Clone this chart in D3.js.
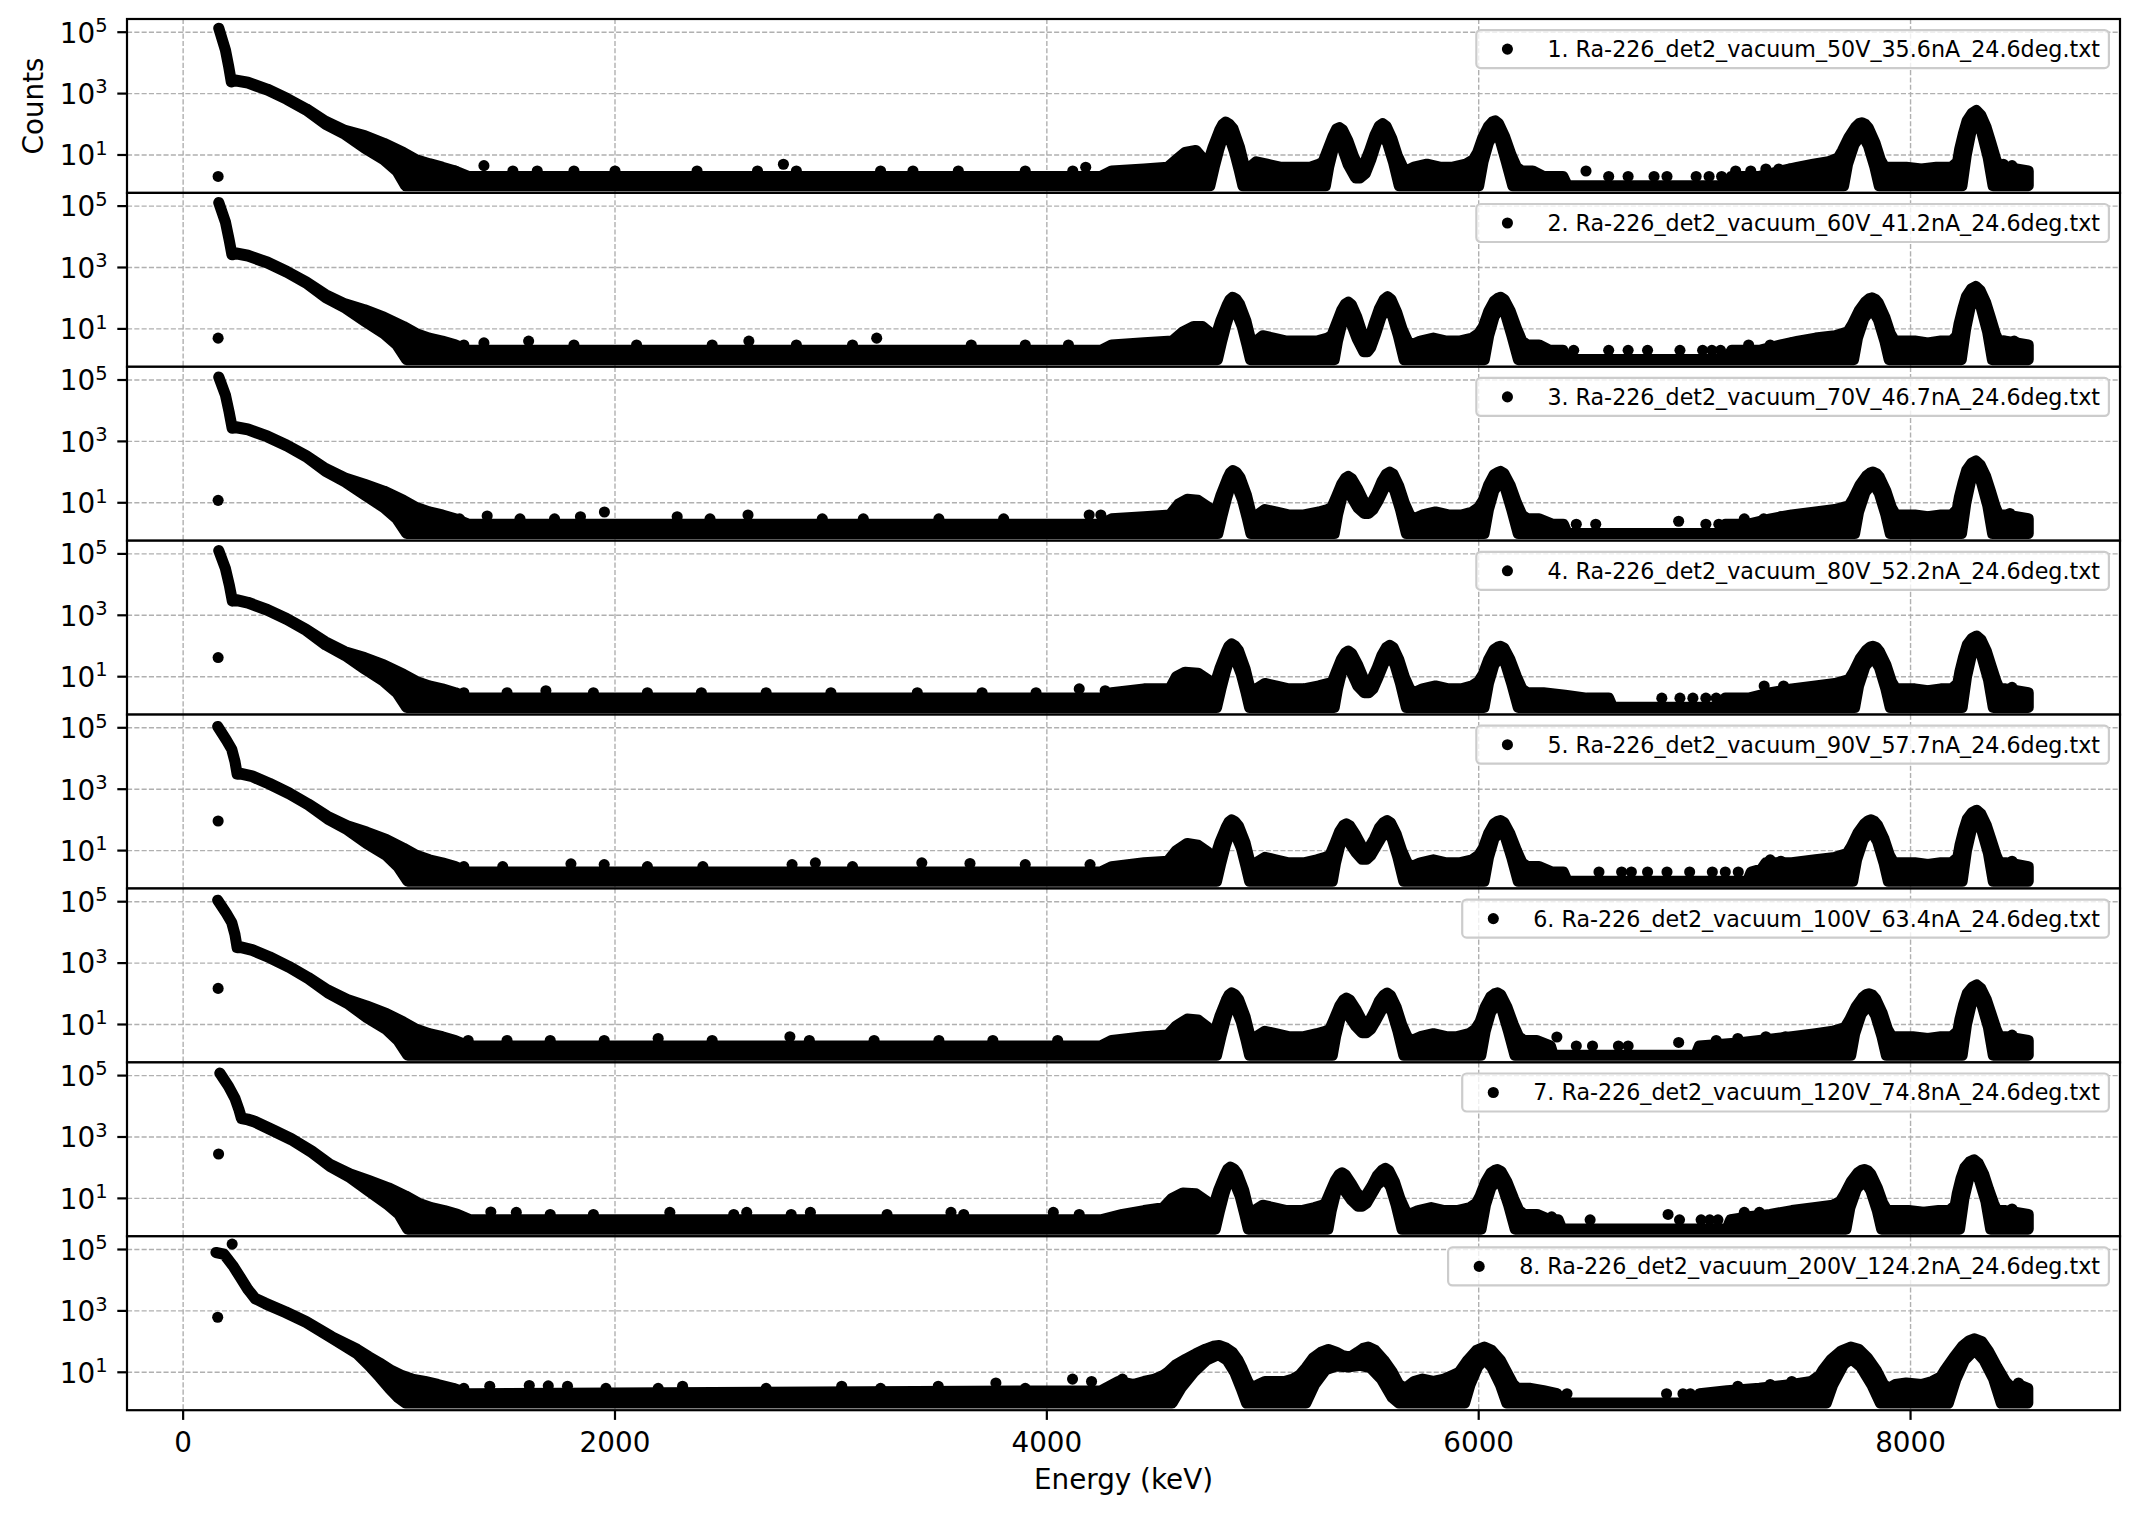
<!DOCTYPE html>
<html>
<head>
<meta charset="utf-8">
<script src="https://cdn.jsdelivr.net/npm/d3@7"></script>
<style>
  body { margin: 0; background: #fff; }
  text { font-family: 'DejaVu Sans', sans-serif; fill: #000; }
</style>
</head>
<body>
<div id="chart"></div>
<script>
// legend labels, one per run
const labels = [
  '1. Ra-226_det2_vacuum_50V_35.6nA_24.6deg.txt',
  '2. Ra-226_det2_vacuum_60V_41.2nA_24.6deg.txt',
  '3. Ra-226_det2_vacuum_70V_46.7nA_24.6deg.txt',
  '4. Ra-226_det2_vacuum_80V_52.2nA_24.6deg.txt',
  '5. Ra-226_det2_vacuum_90V_57.7nA_24.6deg.txt',
  '6. Ra-226_det2_vacuum_100V_63.4nA_24.6deg.txt',
  '7. Ra-226_det2_vacuum_120V_74.8nA_24.6deg.txt',
  '8. Ra-226_det2_vacuum_200V_124.2nA_24.6deg.txt'
];

const xTicks = [0, 2000, 4000, 6000, 8000];
const yTicks = [1e1, 1e3, 1e5];
const yExp = ['1', '3', '5'];

// each spectrum is a dense cloud of points: upper / lower edge of the cloud
// (energy keV, counts), plus the isolated points
const upper1 = [[165,135000],[196,26000],[211,7600],[223,2500],[240,2800],[300,2350],[390,1400],[480,700],[570,320],[660,125],[750,63],[840,43],[930,24],[1020,12],[1080,7],[1140,5.2],[1200,4],[1260,3],[1320,2],
  [4250,2],[4300,3],[4450,3.5],[4560,4],[4600,7],[4640,12],[4690,14],[4720,8],
  [4745,5],[4770,18],[4800,63],[4815,100],[4828,118],[4845,100],[4862,72],[4892,18],[4915,4],
  [4940,4],[4970,6],[5020,5],[5080,4],[5150,4],[5220,4],[5260,5],
  [5280,6],[5300,14],[5325,40],[5342,70],[5355,78],[5370,65],[5395,28],[5420,9],[5448,3.5],[5470,5],[5495,14],[5520,45],[5540,88],[5555,105],[5572,85],[5597,35],[5622,10],[5648,4],[5665,3],
  [5700,4],[5760,5],[5820,4],[5880,4],[5940,5],[5975,7],
  [5995,12],[6020,38],[6045,85],[6064,120],[6076,130],[6092,105],[6120,40],[6150,10],[6175,4],[6200,3],
  [6250,3],[6300,2],[6390,2],[6410,1],[7150,1],[7170,2],[7300,2],[7400,3],[7480,4],[7550,5],[7620,6],[7665,8],
  [7685,14],[7715,38],[7745,80],[7762,105],[7775,112],[7790,100],[7805,75],[7835,25],[7860,7],[7880,4],
  [7920,4],[7980,4],[8050,3.5],[8120,4],[8190,4],[8218,6],
  [8228,16],[8245,50],[8262,130],[8285,230],[8305,280],[8325,200],[8350,80],[8372,25],[8395,7],[8410,4],
  [8440,4],[8490,3.5],[8545,3]];
const lower1 = [[165,135000],[196,26000],[211,7600],[223,2400],[240,2600],[300,2200],[390,1300],[480,650],[570,290],[660,100],[750,47],[840,17],[930,7],[990,3],[1030,1],
  [4755,1],[4775,4],[4795,14],[4812,35],[4828,55],[4848,35],[4870,12],[4892,3],[4908,1],
  [5290,1],[5305,4],[5325,15],[5345,33],[5365,20],[5395,5],[5430,1.8],[5450,1.8],[5475,2.5],[5500,7],[5525,25],[5552,50],[5578,25],[5605,6],[5632,1],
  [6000,1],[6020,6],[6045,25],[6076,60],[6100,30],[6128,6],[6158,1],
  [7690,1],[7708,5],[7738,22],[7775,50],[7805,20],[7835,4],[7855,1],
  [8238,1],[8258,10],[8280,60],[8305,120],[8330,55],[8360,8],[8382,1],
  [8545,1]];
const dots1 = [[162,2],[1260,3],[1393,4.5],[1527,3],[1640,3],[1810,3],[2000,3],[2380,3],[2660,3],[2780,5],[2840,3],[3230,3],[3380,3],[3590,3],[3900,3],[4120,3],[4180,4],
  [6497,3],[6602,2],[6692,2],[6812,2],[6872,2],[7007,2],[7067,2],[7125,2],[7190,3],[7260,3],[7330,3.5],[7390,3.5],[7440,3.5],[8430,5],[8470,4.5]];

const upper2 = [[165,130000],[196,30000],[213,8000],[226,2700],[245,3000],[300,2500],[390,1500],[480,750],[570,340],[660,130],[750,65],[840,42],[930,24],[1020,12],[1080,7],[1140,5],[1200,4],[1260,3],[1320,2],
  [4250,2],[4300,3],[4450,3.5],[4580,4],[4630,8],[4680,12],[4720,12],[4750,8],
  [4780,5],[4805,18],[4835,60],[4848,90],[4860,107],[4875,95],[4892,65],[4922,18],[4945,4],
  [4970,4],[5000,6],[5050,5],[5110,4],[5180,4],[5250,4],[5300,5],
  [5320,6],[5340,14],[5365,40],[5383,65],[5396,74],[5410,62],[5435,25],[5458,8],[5480,3.5],[5495,5],[5515,14],[5540,45],[5562,90],[5578,112],[5594,90],[5620,35],[5645,10],[5670,4],[5690,3],
  [5730,4],[5790,5],[5850,4],[5910,4],[5970,5],[6000,7],
  [6022,12],[6047,38],[6072,80],[6090,100],[6102,107],[6118,90],[6146,38],[6176,10],[6200,4],[6225,3],
  [6280,3],[6330,2],[6390,2],[6410,1],[7150,1],[7172,2],[7300,2],[7400,3],[7480,4],[7560,5],[7650,6],[7710,8],
  [7731,14],[7761,38],[7791,75],[7808,95],[7821,102],[7836,92],[7851,70],[7881,24],[7906,7],[7926,4],
  [7960,4],[8020,4],[8080,3.5],[8140,4],[8190,4],[8215,6],
  [8225,15],[8242,45],[8259,115],[8282,200],[8302,240],[8322,180],[8347,75],[8369,24],[8392,7],[8407,4],
  [8440,4],[8490,3.5],[8545,3]];
const lower2 = [[165,130000],[196,30000],[213,8000],[226,2600],[245,2800],[300,2350],[390,1400],[480,700],[570,310],[660,105],[750,48],[840,18],[930,7],[990,3],[1035,1],
  [4790,1],[4810,4],[4830,14],[4847,33],[4860,50],[4880,33],[4905,12],[4927,3],[4943,1],
  [5331,1],[5346,4],[5366,15],[5386,31],[5406,18],[5436,5],[5468,1.8],[5485,1.8],[5500,2.5],[5523,7],[5548,25],[5578,52],[5602,25],[5628,6],[5655,1],
  [6026,1],[6046,6],[6071,25],[6102,52],[6126,28],[6154,6],[6184,1],
  [7736,1],[7754,5],[7784,22],[7821,47],[7851,20],[7881,4],[7901,1],
  [8235,1],[8255,10],[8277,55],[8302,105],[8327,50],[8357,8],[8379,1],
  [8545,1]];
const dots2 = [[162,5],[1300,3],[1393,3.5],[1600,4],[1810,3],[2100,3],[2450,3],[2620,4],[2840,3],[3100,3],[3212,5],[3650,3],[3900,3],[4100,3],
  [6440,2],[6602,2],[6692,2],[6782,2],[6932,2],[7037,2],[7080,2],[7120,2],[7250,3],[7350,3],[7450,3.5],[8430,4],[8480,4]];

const upper3 = [[165,125000],[196,32000],[213,9000],[227,2800],[245,3000],[300,2550],[390,1500],[480,760],[570,345],[660,130],[750,64],[840,40],[930,24],[1020,12],[1080,7],[1140,5],[1200,4],[1260,3],[1320,2],
  [4250,2],[4300,3],[4450,3.5],[4570,4],[4610,9],[4650,13],[4700,12],[4750,7],
  [4782,5],[4807,18],[4837,62],[4850,95],[4862,112],[4877,98],[4894,68],[4924,18],[4947,4],
  [4975,4],[5010,6],[5060,5],[5120,4],[5190,4],[5260,5],[5300,6],
  [5320,7],[5340,15],[5365,40],[5383,63],[5396,72],[5412,60],[5440,28],[5465,12],[5488,8],[5505,10],[5528,20],[5552,50],[5572,85],[5588,100],[5604,85],[5630,35],[5655,10],[5680,4],[5700,3],
  [5740,4],[5800,5],[5860,4],[5920,4],[5970,5],[6000,7],
  [6021,12],[6046,38],[6071,82],[6089,98],[6101,105],[6117,90],[6145,38],[6175,10],[6200,4],[6225,3],
  [6280,3],[6340,2],[6392,2],[6410,1],[7125,1],[7142,2],[7250,2],[7352,3],[7450,4],[7560,5],[7650,6],[7715,8],
  [7736,14],[7766,38],[7796,75],[7813,93],[7826,100],[7841,90],[7856,68],[7886,24],[7911,7],[7931,4],
  [7960,4],[8020,4],[8080,3.5],[8140,4],[8190,4],[8216,6],
  [8226,15],[8243,45],[8260,115],[8283,195],[8303,230],[8323,170],[8348,72],[8370,24],[8393,7],[8408,4],
  [8440,4],[8490,3.5],[8545,3]];
const lower3 = [[165,125000],[196,32000],[213,9000],[227,2700],[245,2800],[300,2400],[390,1400],[480,710],[570,315],[660,105],[750,48],[840,18],[930,7],[990,3],[1035,1],
  [4792,1],[4812,4],[4832,14],[4849,34],[4862,52],[4882,34],[4907,12],[4929,3],[4945,1],
  [5331,1],[5346,4],[5366,15],[5386,30],[5406,18],[5440,7],[5470,4.5],[5490,4.5],[5510,6],[5535,12],[5560,28],[5588,48],[5612,24],[5638,6],[5665,1],
  [6025,1],[6045,6],[6070,25],[6101,52],[6125,28],[6153,6],[6183,1],
  [7741,1],[7759,5],[7789,22],[7826,46],[7856,20],[7886,4],[7906,1],
  [8236,1],[8256,10],[8278,52],[8303,100],[8328,48],[8358,8],[8380,1],
  [8545,1]];
const dots3 = [[162,12],[1280,3],[1408,3.7],[1560,3],[1720,3],[1840,3.5],[1951,5],[2288,3.5],[2440,3],[2616,4],[2960,3],[3150,3],[3500,3],[3800,3],[4196,4],[4250,4],
  [6452,2],[6542,2],[6926,2.5],[7052,2],[7112,2],[7230,3],[7320,3],[7400,3.5],[8460,4.5]];

const upper4 = [[165,128000],[196,33000],[214,9500],[228,3000],[248,3200],[300,2650],[390,1550],[480,780],[570,350],[660,135],[750,65],[840,42],[930,24],[1020,12],[1080,7],[1140,5],[1200,4],[1260,3],[1320,2],
  [4250,2],[4300,3],[4450,4],[4570,4],[4600,10],[4640,14],[4700,13],[4745,8],
  [4776,5],[4801,18],[4831,64],[4844,100],[4856,117],[4871,100],[4888,70],[4918,18],[4941,4],
  [4970,4],[5010,6],[5060,5],[5120,4],[5190,4],[5260,5],[5300,6],
  [5320,6],[5340,14],[5365,38],[5383,60],[5396,68],[5412,57],[5440,24],[5465,9],[5490,6],[5505,8],[5528,18],[5552,50],[5572,88],[5588,105],[5604,88],[5630,36],[5655,10],[5680,4],[5700,3],
  [5740,4],[5800,5],[5860,4],[5920,4],[5970,5],[6000,7],
  [6021,12],[6046,36],[6071,76],[6089,92],[6101,98],[6117,85],[6145,36],[6175,10],[6200,4],[6225,3],
  [6300,3],[6400,2.5],[6500,2],[6602,2],[6620,1],[7125,1],[7142,2],[7250,2],[7352,3],[7450,4],[7560,5],[7650,6],[7715,8],
  [7736,14],[7766,38],[7796,74],[7813,92],[7826,98],[7841,88],[7856,66],[7886,24],[7911,7],[7931,4],
  [7960,4],[8020,4],[8080,3.5],[8140,4],[8190,4],[8219,6],
  [8229,15],[8246,45],[8263,110],[8286,180],[8306,210],[8326,160],[8351,68],[8373,22],[8396,7],[8411,4],
  [8440,4],[8490,3.5],[8545,3]];
const lower4 = [[165,128000],[196,33000],[214,9500],[228,2900],[248,3000],[300,2500],[390,1450],[480,730],[570,320],[660,108],[750,49],[840,18],[930,7],[990,3],[1035,1],
  [4786,1],[4806,4],[4826,14],[4843,35],[4856,55],[4876,35],[4901,12],[4923,3],[4939,1],
  [5331,1],[5346,4],[5366,15],[5386,29],[5406,17],[5440,5],[5470,3],[5490,3],[5510,4],[5535,10],[5560,27],[5588,50],[5612,25],[5638,6],[5665,1],
  [6025,1],[6045,6],[6070,24],[6101,48],[6125,26],[6153,6],[6183,1],
  [7741,1],[7759,5],[7789,22],[7826,45],[7856,20],[7886,4],[7906,1],
  [8239,1],[8259,10],[8281,48],[8306,92],[8331,45],[8361,8],[8383,1],
  [8545,1]];
const dots4 = [[162,42],[1300,3],[1500,3],[1680,3.5],[1900,3],[2150,3],[2400,3],[2700,3],[3000,3],[3400,3],[3700,3],[3950,3],[4150,4],[4270,3.5],
  [6848,2],[6932,2],[6992,2],[7052,2],[7100,2],[7322,5],[7412,5],[7470,4],[8470,4.5]];

const upper5 = [[160,110000],[200,40000],[225,20000],[240,8000],[250,3200],[268,3300],[320,2700],[400,1550],[490,760],[580,330],[670,130],[760,64],[850,40],[940,23],[1020,12],[1080,7],[1140,5],[1200,4],[1260,3],[1320,2],
  [4250,2],[4300,3],[4450,4],[4560,4.5],[4600,10],[4650,17],[4700,15],[4745,9],
  [4776,5],[4801,18],[4831,58],[4844,86],[4856,100],[4871,88],[4888,62],[4918,18],[4941,4],
  [4970,4],[5010,6],[5060,5],[5120,4],[5190,4],[5250,5],[5290,6],
  [5311,7],[5331,15],[5356,42],[5374,66],[5387,74],[5403,64],[5430,32],[5455,15],[5475,10],[5495,13],[5518,25],[5540,55],[5560,82],[5576,95],[5592,80],[5618,34],[5643,10],[5668,4],[5690,3],
  [5730,4],[5790,5],[5850,4],[5910,4],[5970,5],[6000,7],
  [6021,12],[6046,36],[6071,75],[6089,90],[6101,95],[6117,82],[6145,35],[6175,10],[6200,4],[6225,3],
  [6280,3],[6340,2],[6392,2],[6410,1],[7245,1],[7262,2],[7310,2.5],[7330,4],[7450,4],[7560,5],[7650,6],[7706,8],
  [7727,14],[7757,38],[7787,75],[7804,94],[7817,100],[7832,90],[7847,68],[7877,24],[7902,7],[7922,4],
  [7960,4],[8020,4],[8080,3.5],[8140,4],[8190,4],[8219,6],
  [8229,15],[8246,45],[8263,108],[8286,175],[8306,205],[8326,155],[8351,66],[8373,22],[8396,7],[8411,4],
  [8440,4],[8490,3.5],[8545,3]];
const lower5 = [[160,110000],[200,40000],[225,20000],[240,8000],[250,3100],[268,3100],[320,2550],[400,1450],[490,710],[580,305],[670,106],[760,48],[850,17],[940,7],[995,3],[1040,1],
  [4786,1],[4806,4],[4826,14],[4843,32],[4856,48],[4876,32],[4901,12],[4923,3],[4939,1],
  [5322,1],[5337,4],[5357,15],[5377,32],[5397,20],[5430,9],[5460,5.2],[5480,5.2],[5500,7],[5525,14],[5550,28],[5576,45],[5600,24],[5626,6],[5653,1],
  [6025,1],[6045,6],[6070,24],[6101,46],[6125,26],[6153,6],[6183,1],
  [7732,1],[7750,5],[7780,22],[7817,46],[7847,20],[7877,4],[7897,1],
  [8239,1],[8259,10],[8281,47],[8306,90],[8331,44],[8361,8],[8383,1],
  [8545,1]];
const dots5 = [[162,92],[1300,3],[1480,3],[1796,3.7],[1950,3.5],[2150,3],[2407,3],[2820,3.5],[2928,4],[3100,3],[3421,4],[3644,3.8],[3900,3.5],[4200,3.5],
  [6557,2],[6662,2],[6707,2],[6782,2],[6872,2],[6977,2],[7082,2],[7142,2],[7202,2],[7350,5],[7400,4.5],[8470,4.5]];

const upper6 = [[160,112000],[200,42000],[225,21000],[240,8500],[250,3300],[268,3400],[320,2750],[400,1600],[490,780],[580,340],[670,132],[760,65],[850,40],[940,23],[1020,12],[1080,7],[1140,5],[1200,4],[1260,3],[1320,2],
  [4250,2],[4300,3],[4450,4],[4560,4.5],[4600,9],[4650,15],[4700,14],[4745,8],
  [4776,5],[4801,18],[4831,62],[4844,92],[4856,107],[4871,94],[4888,66],[4918,18],[4941,4],
  [4970,4],[5010,6],[5060,5],[5120,4],[5190,4],[5250,5],[5290,6],
  [5311,7],[5331,15],[5356,40],[5374,63],[5387,72],[5403,62],[5430,32],[5455,15],[5475,10],[5495,13],[5518,26],[5540,58],[5560,90],[5576,105],[5592,88],[5618,36],[5643,10],[5668,4],[5690,3],
  [5730,4],[5790,5],[5850,4],[5900,4],[5955,5],[5985,7],
  [6006,12],[6031,38],[6056,80],[6074,100],[6086,107],[6102,92],[6130,38],[6160,10],[6185,4],[6210,3],
  [6270,3],[6332,2],[6345,1],[7005,1],[7022,2],[7200,2.5],[7300,3],[7450,4],[7560,5],[7640,6],[7697,8],
  [7718,14],[7748,38],[7778,75],[7795,94],[7808,100],[7823,90],[7838,68],[7868,24],[7893,7],[7913,4],
  [7950,4],[8010,4],[8080,3.5],[8140,4],[8190,4],[8219,6],
  [8229,15],[8246,45],[8263,104],[8286,165],[8306,195],[8326,148],[8351,64],[8373,22],[8396,7],[8411,4],
  [8440,4],[8490,3.5],[8545,3]];
const lower6 = [[160,112000],[200,42000],[225,21000],[240,8500],[250,3200],[268,3200],[320,2600],[400,1500],[490,730],[580,310],[670,108],[760,49],[850,17],[940,7],[995,3],[1040,1],
  [4786,1],[4806,4],[4826,14],[4843,34],[4856,52],[4876,34],[4901,12],[4923,3],[4939,1],
  [5322,1],[5337,4],[5357,15],[5377,31],[5397,20],[5430,9],[5460,5.4],[5480,5.4],[5500,7],[5525,14],[5550,30],[5576,50],[5600,25],[5626,6],[5653,1],
  [6010,1],[6030,6],[6055,25],[6086,52],[6110,28],[6138,6],[6168,1],
  [7723,1],[7741,5],[7771,22],[7808,46],[7838,20],[7868,4],[7888,1],
  [8239,1],[8259,10],[8281,46],[8306,86],[8331,43],[8361,8],[8383,1],
  [8545,1]];
const dots6 = [[162,150],[1320,3],[1500,3],[1700,3],[1950,3],[2200,3.5],[2450,3],[2810,4],[2900,3],[3200,3],[3500,3],[3750,3],[4050,3],
  [6362,3.9],[6452,2],[6527,2],[6647,2],[6692,2],[6926,2.6],[7100,3],[7200,3.5],[7330,4],[7420,4],[8470,4.5]];

const upper7 = [[170,120000],[210,45000],[240,18000],[258,8000],[270,4200],[300,3800],[330,3300],[419,1700],[500,900],[596,350],[680,130],[774,62],[860,38],[951,22],[1030,12],[1090,7],[1150,5],[1210,4],[1270,3],[1330,2],
  [4250,2],[4350,3],[4450,4],[4540,5],[4580,10],[4630,15],[4690,14],[4740,8],
  [4770,5],[4795,18],[4825,60],[4838,90],[4850,105],[4865,92],[4882,65],[4912,18],[4935,4],
  [4960,4],[5000,6],[5050,5],[5110,4],[5180,4],[5240,5],[5275,6],
  [5291,7],[5311,15],[5336,38],[5354,60],[5367,68],[5383,58],[5410,30],[5435,15],[5460,10],[5480,13],[5505,25],[5530,55],[5552,82],[5568,95],[5584,80],[5610,34],[5635,10],[5660,4],[5680,3],
  [5720,4],[5780,5],[5840,4],[5900,4],[5960,5],[5990,7],
  [6007,12],[6032,34],[6057,68],[6075,82],[6087,87],[6103,76],[6131,34],[6161,10],[6186,4],[6211,3],
  [6270,3],[6330,2],[6368,2],[6385,1],[7150,1],[7167,2],[7250,2.5],[7350,3],[7450,4],[7560,5],[7640,6],[7675,8],
  [7696,14],[7726,36],[7756,68],[7773,82],[7786,87],[7801,80],[7816,62],[7846,22],[7871,7],[7891,4],
  [7930,4],[7990,4],[8060,3.5],[8130,4],[8180,4],[8207,6],
  [8217,15],[8234,45],[8251,100],[8274,155],[8294,180],[8314,138],[8339,60],[8361,20],[8384,7],[8399,4],
  [8440,4],[8490,3.5],[8545,3]];
const lower7 = [[170,120000],[210,45000],[240,18000],[258,8000],[270,4000],[300,3600],[330,3100],[419,1550],[500,820],[596,310],[680,110],[774,47],[860,17],[951,6],[1000,3],[1040,1],
  [4780,1],[4800,4],[4820,14],[4837,33],[4850,50],[4870,33],[4895,12],[4917,3],[4933,1],
  [5302,1],[5317,4],[5337,15],[5357,29],[5377,19],[5410,9],[5440,5.6],[5460,5.6],[5480,7],[5505,14],[5530,28],[5568,45],[5592,24],[5618,6],[5645,1],
  [6011,1],[6031,6],[6056,22],[6087,42],[6111,24],[6139,6],[6169,1],
  [7701,1],[7719,5],[7749,20],[7786,40],[7816,18],[7846,4],[7866,1],
  [8227,1],[8247,10],[8269,44],[8294,80],[8319,40],[8349,8],[8371,1],
  [8545,1]];
const dots7 = [[164,280],[1425,3.6],[1543,3.5],[1700,3],[1900,3],[2254,3.5],[2550,3],[2610,3.5],[2816,3],[2905,3.5],[3260,3],[3556,3.5],[3615,3],[4030,3.5],[4150,3],
  [6338,2.5],[6516,2],[6877,3],[6930,2],[7030,2],[7070,2],[7108,2],[7230,3.5],[7300,3.5],[7360,3],[8470,4.5]];

const upper8 = [[152,80000],[190,70000],[230,30000],[263,13000],[300,5000],[333,2600],[381,1800],[475,930],[570,450],[688,145],[806,56],[860,32],[910,20],[960,12],[1010,8],[1060,6],[1120,5],[1180,4],[1250,3],[1320,2],
  [4250,2.5],[4330,5],[4400,4],[4450,5],[4500,6],[4540,8],
  [4560,10],[4600,18],[4644,27],[4690,40],[4736,57],[4770,70],[4798,74],[4830,62],[4859,45],[4885,25],[4905,13],[4930,5],[4950,3],
  [4980,4],[5010,5],[5050,5],[5100,5],[5140,6],
  [5170,8],[5200,14],[5235,30],[5270,45],[5304,55],[5340,45],[5370,35],[5405,31],[5440,45],[5465,60],[5488,66],[5520,52],[5560,25],[5600,10],[5630,4],[5660,3],
  [5700,5],[5740,6],[5790,5],[5840,6],[5880,8],
  [5910,10],[5950,25],[5990,52],[6026,66],[6060,52],[6100,25],[6130,10],[6160,4],[6180,3],
  [6240,3],[6300,2.5],[6363,2],[6380,1],[7005,1],[7023,2],[7150,2.5],[7300,3],[7450,4],[7540,5],[7580,8],
  [7595,12],[7630,25],[7680,50],[7723,66],[7760,56],[7800,30],[7840,12],[7875,4],[7900,3],
  [7930,4],[7980,4.5],[8050,4],[8100,5],[8140,7],
  [8160,12],[8200,30],[8240,70],[8270,105],[8297,123],[8330,100],[8360,50],[8400,15],[8440,5],[8470,3],
  [8500,4],[8543,3]];
const lower8 = [[152,80000],[190,70000],[230,30000],[263,13000],[300,5000],[333,2500],[381,1700],[475,870],[570,420],[688,130],[806,40],[860,17],[910,7],[955,3],[995,1.5],[1030,1],
  [4580,1],[4620,3],[4680,10],[4740,25],[4795,38],[4835,25],[4870,10],[4900,3],[4925,1],
  [5200,1],[5240,4],[5290,12],[5340,16],[5400,15],[5450,17],[5500,14],[5550,6],[5600,1.5],[5630,1],
  [5935,1],[5960,4],[5995,15],[6026,27],[6060,15],[6100,4],[6130,1],
  [7610,1],[7640,4],[7690,18],[7725,28],[7770,15],[7820,4],[7860,1],
  [8175,1],[8210,6],[8250,25],[8297,55],[8340,25],[8385,6],[8420,1],
  [8543,1]];
const dots8 = [[160,620],[227,150000],[1300,3],[1420,3.5],[1603,3.7],[1691,3.6],[1780,3.5],[1958,3],[2200,3],[2313,3.5],[2700,3],[3050,3.5],[3230,3],[3497,3.5],[3764,4.5],[3900,3],[4119,6],[4207,5],[4350,6],
  [6302,2],[6409,2],[6870,2],[6946,2],[6980,2],[7200,3.5],[7350,4],[7450,5],[8500,4.5]];

const panels = [
  { upper: upper1, lower: lower1, dots: dots1 },
  { upper: upper2, lower: lower2, dots: dots2 },
  { upper: upper3, lower: lower3, dots: dots3 },
  { upper: upper4, lower: lower4, dots: dots4 },
  { upper: upper5, lower: lower5, dots: dots5 },
  { upper: upper6, lower: lower6, dots: dots6 },
  { upper: upper7, lower: lower7, dots: dots7 },
  { upper: upper8, lower: lower8, dots: dots8 }
];

function SpectraChart() {
  const W = 2140;
  const H = 1518;
  const axL = 127;
  const axR = 2120;
  const axT = 19;
  const panelH = 173.9;
  const dotR = 5.55;
  const lw = 2.2; // 0.8pt at 200 dpi
  const tickLen = 9.7;
  const fs = 27.8;
  const legendFs = 22.2;

  const scaleX = d3.scaleLinear()
    .domain([-260, 8970])
    .range([axL, axR]);

  const svg = d3.select('#chart').append('svg')
    .attr('width', W)
    .attr('height', H);

  svg.append('rect')
    .attr('width', W)
    .attr('height', H)
    .attr('fill', '#fff');

  panels.forEach((p, i) => {
    const top = axT + i * panelH;
    const bottom = top + panelH;
    const scaleY = d3.scaleLog()
      .domain([Math.pow(10, -0.235), Math.pow(10, 5.43)])
      .range([bottom, top]);

    const g = svg.append('g').attr('class', `panel panel-${i + 1}`);

    g.append('rect')
      .attr('x', axL)
      .attr('y', top)
      .attr('width', axR - axL)
      .attr('height', panelH)
      .attr('fill', '#fff');

    g.append('clipPath')
      .attr('id', `clip-${i}`)
      .append('rect')
      .attr('x', axL)
      .attr('y', top)
      .attr('width', axR - axL)
      .attr('height', panelH);

    // grid
    const grid = g.append('g').attr('class', 'grid')
      .attr('stroke', '#b0b0b0')
      .attr('stroke-width', 1.4)
      .attr('stroke-dasharray', '5.1,2.2');

    grid.selectAll('line.gx')
      .data(xTicks)
      .enter().append('line')
      .attr('class', 'gx')
      .attr('x1', d => scaleX(d))
      .attr('x2', d => scaleX(d))
      .attr('y1', top)
      .attr('y2', bottom);

    grid.selectAll('line.gy')
      .data(yTicks)
      .enter().append('line')
      .attr('class', 'gy')
      .attr('x1', axL)
      .attr('x2', axR)
      .attr('y1', d => scaleY(d))
      .attr('y2', d => scaleY(d));

    // data: dense point cloud outline + isolated points
    const data = g.append('g').attr('clip-path', `url(#clip-${i})`);

    const line = d3.line()
      .x(d => scaleX(d[0]))
      .y(d => scaleY(d[1]));

    data.append('path')
      .attr('d', line(p.upper.concat(p.lower.slice().reverse())) + 'Z')
      .attr('fill', '#000')
      .attr('stroke', '#000')
      .attr('stroke-width', dotR * 2)
      .attr('stroke-linejoin', 'round')
      .attr('stroke-linecap', 'round');

    data.selectAll('circle')
      .data(p.dots)
      .enter().append('circle')
      .attr('cx', d => scaleX(d[0]))
      .attr('cy', d => scaleY(d[1]))
      .attr('r', dotR)
      .attr('fill', '#000');

    // y ticks
    const yAxis = g.append('g').attr('class', 'axis axis--y');
    yAxis.selectAll('line')
      .data(yTicks)
      .enter().append('line')
      .attr('x1', axL - tickLen)
      .attr('x2', axL)
      .attr('y1', d => scaleY(d))
      .attr('y2', d => scaleY(d))
      .attr('stroke', '#000')
      .attr('stroke-width', lw);

    const yLab = yAxis.selectAll('text')
      .data(yTicks)
      .enter().append('text')
      .attr('x', axL - tickLen - 9.7)
      .attr('y', d => scaleY(d) + 10.4)
      .attr('text-anchor', 'end')
      .style('font-size', `${fs}px`)
      .text('10');
    yLab.append('tspan')
      .attr('dy', -10.6)
      .style('font-size', `${fs * 0.7}px`)
      .text((d, j) => yExp[j]);

    // spines
    g.append('rect')
      .attr('x', axL)
      .attr('y', top)
      .attr('width', axR - axL)
      .attr('height', panelH)
      .attr('fill', 'none')
      .attr('stroke', '#000')
      .attr('stroke-width', lw);

    // legend
    const leg = g.append('g').attr('class', 'legend');
    const legBox = leg.append('rect');
    const legText = leg.append('text')
      .style('font-size', `${legendFs}px`)
      .text(labels[i]);
    const tw = legText.node().getComputedTextLength();
    const pad = 0.4 * legendFs;
    const boxW = tw + 2 * pad + 2.0 * legendFs + 0.8 * legendFs;
    const boxH = 38;
    const boxR = axR - 0.5 * legendFs;
    const boxL = boxR - boxW;
    const boxT = top + 0.5 * legendFs;

    legBox
      .attr('x', boxL)
      .attr('y', boxT)
      .attr('width', boxW)
      .attr('height', boxH)
      .attr('rx', 4.4)
      .attr('fill', 'rgba(255,255,255,0.8)')
      .attr('stroke', '#cccccc')
      .attr('stroke-width', 2.2);

    legText
      .attr('x', boxL + pad + 2.8 * legendFs)
      .attr('y', boxT + boxH / 2 + 7.9);

    leg.append('circle')
      .attr('cx', boxL + pad + legendFs)
      .attr('cy', boxT + boxH / 2)
      .attr('r', dotR)
      .attr('fill', '#000');

    // x ticks + labels on the bottom panel only
    if (i === panels.length - 1) {
      const xAxis = g.append('g').attr('class', 'axis axis--x');
      xAxis.selectAll('line')
        .data(xTicks)
        .enter().append('line')
        .attr('x1', d => scaleX(d))
        .attr('x2', d => scaleX(d))
        .attr('y1', bottom)
        .attr('y2', bottom + tickLen)
        .attr('stroke', '#000')
        .attr('stroke-width', lw);

      xAxis.selectAll('text')
        .data(xTicks)
        .enter().append('text')
        .attr('x', d => scaleX(d))
        .attr('y', bottom + 42)
        .attr('text-anchor', 'middle')
        .style('font-size', `${fs}px`)
        .text(d => d);

      svg.append('text')
        .attr('x', (axL + axR) / 2)
        .attr('y', 1489)
        .attr('text-anchor', 'middle')
        .style('font-size', `${fs}px`)
        .text('Energy (keV)');
    }

    if (i === 0) {
      svg.append('text')
        .attr('transform', `translate(43, ${top + panelH / 2}) rotate(-90)`)
        .attr('text-anchor', 'middle')
        .style('font-size', `${fs}px`)
        .text('Counts');
    }
  });
}

SpectraChart();
</script>
</body>
</html>
